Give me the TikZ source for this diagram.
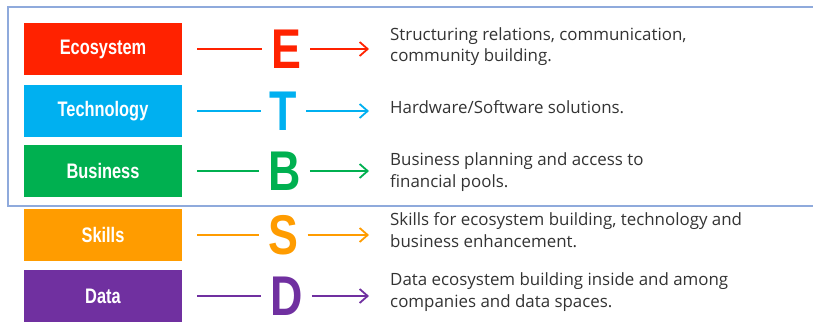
\documentclass[tikz,border=0pt]{standalone}
\usepackage{fontspec}
\setmainfont{Liberation Sans}
\newfontfamily\descfont{Open Sans}
\usetikzlibrary{arrows.meta}
\definecolor{cRed}{HTML}{FF2200}
\definecolor{cBlue}{HTML}{00B0F0}
\definecolor{cGreen}{HTML}{00B050}
\definecolor{cOrange}{HTML}{FF9C00}
\definecolor{cPurple}{HTML}{7030A0}
\definecolor{cFrame}{HTML}{8FAADC}
\definecolor{cText}{HTML}{333333}
\tikzset{
  catbox/.style={fill=#1, draw=none, minimum width=158pt, minimum height=52pt, inner sep=0pt,
    text=white, font=\fontsize{21}{21}\selectfont\bfseries},
  bigletter/.style={text=#1, inner xsep=9pt, inner ysep=0pt,
    font=\fontsize{56}{56}\selectfont\bfseries},
  desc/.style={anchor=west, inner sep=0pt, text=cText, align=left,
    font=\descfont\fontsize{16.9}{21.5}\selectfont},
  link/.style={draw=#1, line width=1.8pt, shorten <=15pt},
  arr/.style={draw=#1, line width=1.8pt, -{Straight Barb[length=8pt,width=14pt,line width=1.8pt]}, shorten >=21pt},
}
\newcommand{\cond}[1]{\scalebox{0.78}[1]{#1}}
\newcommand{\bigcond}[1]{\scalebox{0.8}[1]{#1}}
\begin{document}
\begin{tikzpicture}[x=1pt,y=-1pt]
\useasboundingbox (0,0) rectangle (813,323);
\draw[cFrame, line width=1.5pt] (813,7) -- (8,7) -- (8,206) -- (813,206);

\node[catbox=cRed] (eco) at (103,49) {\cond{Ecosystem}};
\node[catbox=cBlue] (tec) at (103,111) {\cond{Technology}};
\node[catbox=cGreen] (bus) at (103,171) {\cond{Business}};
\node[catbox=cOrange] (ski) at (103,235) {\cond{Skills}};
\node[catbox=cPurple] (dat) at (103,296) {\cond{Data}};

\node[bigletter=cRed] (E) at (286,49) {\bigcond{E}};
\node[bigletter=cBlue] (T) at (283.5,111) {\bigcond{T}};
\node[bigletter=cGreen] (B) at (284.5,171) {\bigcond{B}};
\node[bigletter=cOrange] (S) at (283.5,235) {\bigcond{S}};
\node[bigletter=cPurple] (D) at (286.5,296) {\bigcond{D}};

\node[desc] (dE) at (390,46.5) {Structuring relations, communication,\\community building.};
\node[desc] (dT) at (390,107) {Hardware/Software solutions.};
\node[desc] (dB) at (390,172) {Business planning and access to\\financial pools.};
\node[desc] (dS) at (390,230) {Skills for ecosystem building, technology and\\business enhancement.};
\node[desc] (dD) at (390,292) {Data ecosystem building inside and among\\companies and data spaces.};

\foreach \b/\l/\d/\c in {eco/E/dE/cRed, tec/T/dT/cBlue, bus/B/dB/cGreen, ski/S/dS/cOrange, dat/D/dD/cPurple}{
  \draw[link=\c] (\b.east) -- (\l.west);
  \draw[arr=\c] (\l.east) -- (\l.east -| \d.west);
}
\end{tikzpicture}
\end{document}
